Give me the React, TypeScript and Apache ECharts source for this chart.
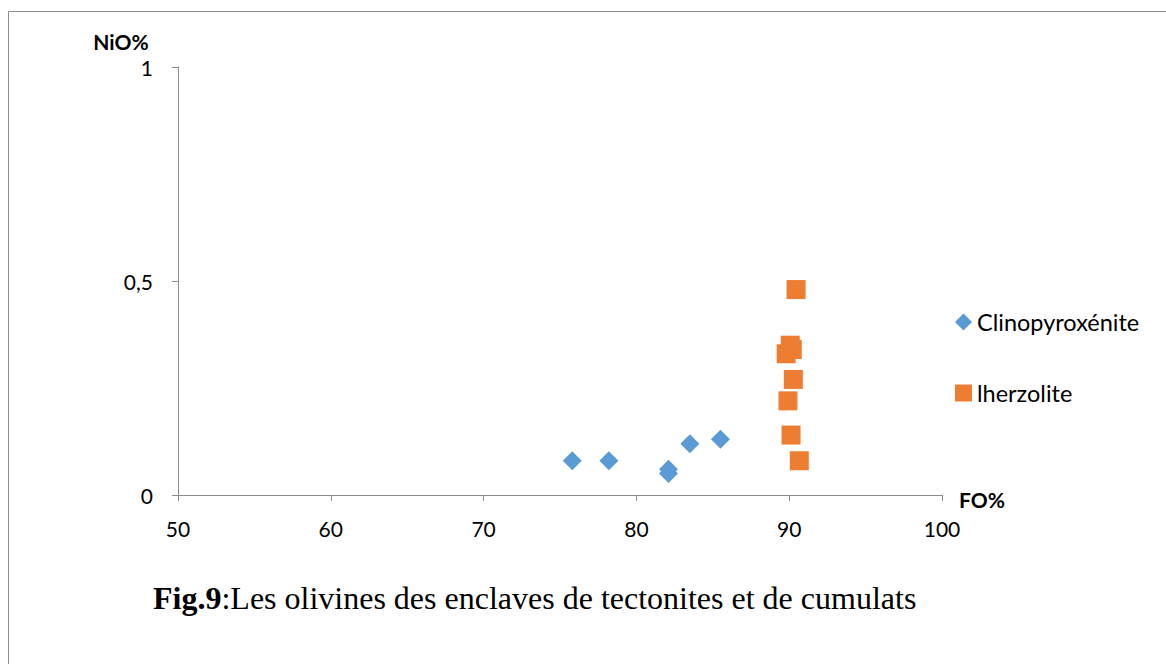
import React, { useEffect, useRef } from "react";
import * as echarts from "echarts";

const clinoFO = [75.8, 78.2, 82.1, 82.1, 83.5, 85.5];
const clinoNiO = [0.08, 0.08, 0.06, 0.05, 0.12, 0.13];
const lherzFO = [90.45, 90.07, 90.2, 89.8, 90.27, 89.92, 90.12, 90.66];
const lherzNiO = [0.48, 0.35, 0.34, 0.33, 0.27, 0.22, 0.14, 0.08];
const seriesNames = ["Clinopyroxénite", "lherzolite"];
const xTicks = [50, 100, 10];
const yTicks = [0, 1, 0.5];

const font = "Lato, 'Open Sans', sans-serif";

export default function App() {
  const ref = useRef<HTMLDivElement>(null);
  useEffect(() => {
    if (!ref.current) return;
    const chart = echarts.init(ref.current, null, { renderer: "svg" });
    const axisColor = "#8c8c8c";
    chart.setOption({
      animation: false,
      backgroundColor: "#ffffff",
      grid: { left: 178, right: 224, top: 67, bottom: 169 },
      xAxis: {
        type: "value",
        min: xTicks[0],
        max: xTicks[1],
        interval: xTicks[2],
        axisLine: { show: true, onZero: false, lineStyle: { color: axisColor, width: 1 } },
        axisTick: { show: true, inside: false, length: 6, lineStyle: { color: axisColor } },
        splitLine: { show: false },
        axisLabel: { color: "#000", fontSize: 21, fontFamily: font, margin: 23 },
      },
      yAxis: {
        type: "value",
        min: yTicks[0],
        max: yTicks[1],
        interval: yTicks[2],
        axisLine: { show: true, onZero: false, lineStyle: { color: axisColor, width: 1 } },
        axisTick: { show: true, inside: false, length: 6, lineStyle: { color: axisColor } },
        splitLine: { show: false },
        axisLabel: {
          color: "#000",
          fontSize: 21,
          fontFamily: font,
          margin: 25,
          formatter: (v: number) => String(v).replace(".", ","),
        },
      },
      legend: {
        orient: "vertical",
        left: 950,
        top: 305,
        itemWidth: 17,
        itemHeight: 17,
        itemGap: 47,
        textStyle: { color: "#000", fontSize: 23.5, lineHeight: 24, fontFamily: font },
        data: seriesNames,
      },
      series: [
        {
          name: seriesNames[0],
          type: "scatter",
          symbol: "diamond",
          symbolSize: 19,
          itemStyle: { color: "#5B9BD5", opacity: 1 },
          data: clinoFO.map((x, i) => [x, clinoNiO[i]]),
        },
        {
          name: seriesNames[1],
          type: "scatter",
          symbol: "rect",
          symbolSize: 19,
          itemStyle: { color: "#ED7D31", opacity: 1 },
          data: lherzFO.map((x, i) => [x, lherzNiO[i]]),
        },
      ],
      graphic: [
        {
          type: "rect",
          shape: { x: 8.5, y: 11.5, width: 1200, height: 700 },
          style: { fill: "none", stroke: "#8c8c8c", lineWidth: 1 },
          silent: true,
        },
        {
          type: "text",
          x: 121,
          y: 41,
          style: {
            text: "NiO%",
            fontSize: 21,
            fontWeight: "bold",
            fontFamily: font,
            fill: "#000",
            align: "center",
            verticalAlign: "middle",
          },
        },
        {
          type: "text",
          x: 982,
          y: 499,
          style: {
            text: "FO%",
            fontSize: 21,
            fontWeight: "bold",
            fontFamily: font,
            fill: "#000",
            align: "center",
            verticalAlign: "middle",
          },
        },
        {
          type: "text",
          x: 153,
          y: 598,
          style: {
            text: "{b|Fig.9}{r|:Les olivines des enclaves de tectonites et de cumulats}",
            verticalAlign: "middle",
            rich: {
              b: {
                fontSize: 32,
                fontWeight: "bold",
                fontFamily: "'Liberation Serif', serif",
                fill: "#000",
              },
              r: {
                fontSize: 32,
                fontFamily: "'Liberation Serif', serif",
                fill: "#000",
              },
            },
          },
        },
      ],
    });
    return () => chart.dispose();
  }, []);
  return (
    <div
      ref={ref}
      style={{ position: "fixed", left: 0, top: 0, width: 1166, height: 664 }}
    />
  );
}
